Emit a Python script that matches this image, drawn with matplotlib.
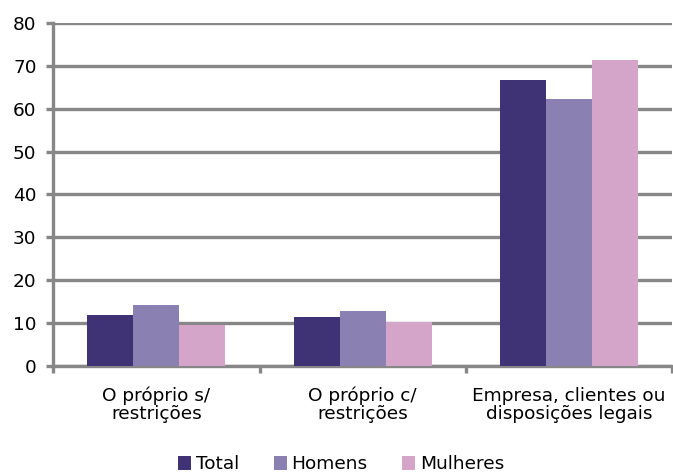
import matplotlib.pyplot as plt
import numpy as np

plt.rcParams['font.family'] = ['DejaVu Sans']

categories = ['O próprio s/\nrestrições', 'O próprio c/\nrestrições',
              'Empresa, clientes ou\ndisposições legais']
series_names = ['Total', 'Homens', 'Mulheres']
total = [11.8, 11.4, 66.7]
homens = [14.2, 12.8, 62.2]
mulheres = [9.6, 10.3, 71.5]
yticks = [0, 10, 20, 30, 40, 50, 60, 70, 80]

colors = ['#3f3275', '#8a80b2', '#d4a5c9']
grid_color = '#878787'
fs = 13.3

fig = plt.figure(figsize=(6.73, 4.72), dpi=100)
ax = fig.add_axes([0.079, 0.225, 0.92, 0.726])

x = np.arange(len(categories))
w = 0.223
for i, (vals, name) in enumerate(zip([total, homens, mulheres], series_names)):
    ax.bar(x + (i - 1) * w, vals, width=w, color=colors[i], label=name, zorder=3)

ax.set_xlim(-0.5, 2.5)
ax.set_ylim(0, 80)
ax.set_yticks(yticks)
ax.set_yticklabels([str(v) for v in yticks], fontsize=fs)
ax.yaxis.grid(True, color=grid_color, linewidth=2.4, zorder=0)
ax.set_axisbelow(True)

# category labels centred, ticks at the boundaries
ax.set_xticks(x)
ax.set_xticklabels(categories, fontsize=fs, linespacing=1.0)
ax.tick_params(axis='x', length=0, pad=15)
ax.set_xticks([-0.5, 0.5, 1.5, 2.5], minor=True)
ax.tick_params(axis='x', which='minor', length=5, width=2.4, color=grid_color, direction='out')
ax.tick_params(axis='y', length=5, width=2.4, color=grid_color, direction='out', pad=7)

for s in ['top', 'right']:
    ax.spines[s].set_visible(False)
ax.spines['left'].set_color(grid_color)
ax.spines['left'].set_linewidth(2.4)
ax.spines['bottom'].set_color(grid_color)
ax.spines['bottom'].set_linewidth(2.4)

fig.legend(loc='center', bbox_to_anchor=(0.507, 0.016), ncol=3, frameon=False,
           fontsize=fs, handlelength=0.7, handleheight=0.75, handletextpad=0.27,
           columnspacing=1.85, borderpad=0)

fig.savefig('out.png', dpi=100)
